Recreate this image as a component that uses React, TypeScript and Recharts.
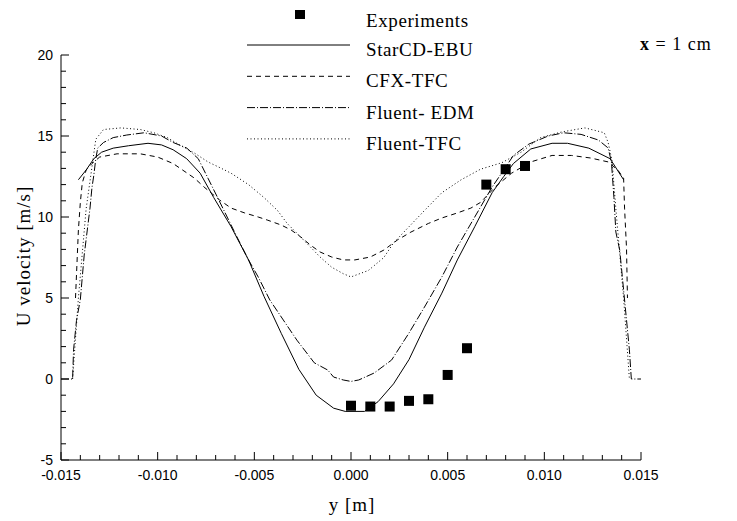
import { ComposedChart, Line, Scatter, XAxis, YAxis } from "recharts"

const W = 729
const H = 513

// y [m] / U velocity [m/s]
const expY = [0, 0.001, 0.002, 0.003, 0.004, 0.005, 0.006, 0.007, 0.008, 0.009]
const expU = [-1.65, -1.7, -1.7, -1.35, -1.25, 0.25, 1.9, 12.0, 12.95, 13.15]

const ebuY = [-0.0141, -0.0137, -0.0133, -0.0129, -0.0123, -0.0115, -0.0105, -0.0098, -0.0092, -0.0085, -0.0078, -0.0071, -0.0062, -0.0053, -0.0045, -0.0036, -0.0027, -0.0018, -0.0009, -0.0003, 0.0007, 0.0014, 0.0022, 0.003, 0.0038, 0.0047, 0.0055, 0.0064, 0.0073, 0.0079, 0.0084, 0.0093, 0.0104, 0.0112, 0.0123, 0.0134, 0.0141]
const ebuU = [12.3, 12.9, 13.6, 14.0, 14.25, 14.4, 14.55, 14.45, 14.15, 13.6, 12.7, 11.2, 9.4, 7.35, 5.1, 2.8, 0.6, -1.0, -1.8, -2.0, -2.0, -1.4, -0.3, 1.2, 3.2, 5.3, 7.35, 9.4, 11.5, 12.5, 13.3, 14.2, 14.55, 14.55, 14.25, 13.6, 12.3]

const cfxY = [-0.01425, -0.0141, -0.014, -0.0139, -0.0137, -0.0134, -0.013, -0.0121, -0.0109, -0.01, -0.0092, -0.0081, -0.0076, -0.0068, -0.0062, -0.0055, -0.0048, -0.0043, -0.0036, -0.0031, -0.0026, -0.0021, -0.0016, -0.001, -0.0004, 0.0002, 0.001, 0.0017, 0.0024, 0.0031, 0.004, 0.0047, 0.0055, 0.0062, 0.0067, 0.0075, 0.0083, 0.0093, 0.0104, 0.0114, 0.0124, 0.0133, 0.0138, 0.0141, 0.01415, 0.01425, 0.0143]
const cfxU = [5.0, 9.2, 10.9, 12.1, 12.9, 13.3, 13.7, 13.9, 13.9, 13.7, 13.3, 12.4, 11.85, 11.05, 10.55, 10.25, 10.0, 9.8, 9.5, 9.2, 8.77, 8.27, 7.84, 7.53, 7.35, 7.35, 7.53, 7.96, 8.58, 9.07, 9.6, 9.94, 10.25, 10.55, 10.9, 11.9, 12.7, 13.4, 13.8, 13.8, 13.64, 13.4, 12.9, 12.4, 10.55, 8.1, 5.0]

const edmY = [-0.015, -0.0144, -0.01435, -0.0142, -0.014, -0.0138, -0.0135, -0.0134, -0.0133, -0.0132, -0.0131, -0.0128, -0.0123, -0.0116, -0.0107, -0.0098, -0.0092, -0.0085, -0.0079, -0.0074, -0.0069, -0.0059, -0.0053, -0.0048, -0.0042, -0.0035, -0.0028, -0.0019, -0.0012, -0.0009, -0.0004, 0, 0.0004, 0.0012, 0.0021, 0.003, 0.0038, 0.0047, 0.0055, 0.0064, 0.0073, 0.0079, 0.0084, 0.0092, 0.0102, 0.011, 0.0119, 0.0128, 0.0133, 0.01347, 0.0136, 0.0137, 0.0139, 0.0141, 0.0144, 0.0145, 0.015]
const edmU = [0, 0, 1.8, 3.6, 4.9, 7.65, 10.55, 11.8, 12.6, 13.6, 14.26, 14.6, 14.9, 15.06, 15.2, 15.0, 14.6, 14.26, 13.6, 12.4, 11.2, 8.77, 7.35, 6.3, 4.88, 3.64, 2.4, 1.0, 0.55, 0.12, -0.06, -0.15, -0.06, 0.37, 1.17, 2.84, 4.44, 6.3, 8.15, 10.0, 11.85, 12.9, 13.8, 14.5, 15.0, 15.2, 15.1, 14.75, 14.26, 13.4, 11.2, 9.07, 7.96, 5.5, 1.8, 0, 0]

const tfcY = [-0.0144, -0.0141, -0.0137, -0.01335, -0.0132, -0.0128, -0.0119, -0.0109, -0.0102, -0.0095, -0.0088, -0.0081, -0.0074, -0.0067, -0.0062, -0.0053, -0.0045, -0.0038, -0.0033, -0.0028, -0.0021, -0.0016, -0.001, -0.0004, 0, 0.0009, 0.0017, 0.0022, 0.003, 0.0038, 0.0047, 0.0057, 0.0067, 0.0078, 0.0088, 0.0098, 0.0109, 0.0121, 0.0131, 0.0133, 0.0135, 0.0137, 0.0141, 0.0144]
const tfcU = [0, 5, 10.5, 13.5, 14.8, 15.4, 15.5, 15.4, 15.2, 14.9, 14.4, 13.95, 13.4, 13.0, 12.7, 12.0, 11.2, 10.4, 9.6, 9.0, 8.15, 7.53, 6.9, 6.5, 6.3, 6.7, 7.5, 8.4, 9.4, 10.4, 11.5, 12.3, 12.95, 13.35, 14.0, 14.9, 15.25, 15.5, 15.2, 14.6, 13.5, 10.5, 5, 0]

const xMajor = [-0.015, -0.01, -0.005, 0, 0.005, 0.01, 0.015]
const yMajor = [-5, 0, 5, 10, 15, 20]

// minor ticks: 5 subdivisions between majors
const subdivide = (majors: number[]) => {
  const out: number[] = []
  majors.forEach((m, i) => {
    if (i === majors.length - 1) return out.push(m)
    const step = (majors[i + 1] - m) / 5
    for (let k = 0; k < 5; k++) out.push(+(m + k * step).toFixed(6))
  })
  return out
}
const xTicks = subdivide(xMajor)
const yTicks = subdivide(yMajor)

const pts = (ys: number[], us: number[]) =>
  ys.slice(0, us.length).map((y, i) => ({ x: y, u: us[i] }))

const series = [
  { name: "StarCD-EBU", data: pts(ebuY, ebuU), dash: undefined },
  { name: "CFX-TFC", data: pts(cfxY, cfxU), dash: "5 4" },
  { name: "Fluent- EDM", data: pts(edmY, edmU), dash: "8 2 1 2" },
  { name: "Fluent-TFC", data: pts(tfcY, tfcU), dash: "1 2.5" },
]
const expData = pts(expY, expU)

const isMajor = (v: number, majors: number[]) => majors.some((m) => Math.abs(m - v) < 1e-9)

const tickFont = { fontFamily: "'Liberation Sans', Arial, sans-serif", fontSize: 14, fill: "#000" }
const serif = "'Liberation Serif', 'Times New Roman', serif"

function XTick(props: any) {
  const { x, y, payload } = props
  const major = isMajor(payload.value, xMajor)
  return (
    <g>
      <line x1={x} x2={x} y1={y} y2={y - (major ? 8 : 5)} stroke="#000" />
      {major && (
        <text x={x} y={y + 20} textAnchor="middle" {...tickFont}>
          {payload.value.toFixed(3)}
        </text>
      )}
    </g>
  )
}

function YTick(props: any) {
  const { x, y, payload } = props
  const major = isMajor(payload.value, yMajor)
  return (
    <g>
      <line x1={x} x2={x + (major ? 8 : 5)} y1={y} y2={y} stroke="#000" />
      {major && (
        <text x={x - 8} y={y} dy={5} textAnchor="end" {...tickFont}>
          {payload.value}
        </text>
      )}
    </g>
  )
}

const Square = (props: any) => (
  <rect x={props.cx - 5} y={props.cy - 5} width={10} height={10} fill="#000" />
)

export default function App() {
  return (
    <div style={{ position: "relative", width: W, height: H }}>
      <ComposedChart width={W} height={H} margin={{ top: 47, right: 96, bottom: 31, left: 8 }}>
        <XAxis
          type="number"
          dataKey="x"
          domain={[-0.015, 0.015]}
          ticks={xTicks}
          interval={0}
          tickSize={0}
          tickMargin={0}
          tickLine={false}
          tick={<XTick />}
          height={30}
          axisLine={{ stroke: "#000" }}
          allowDataOverflow
        />
        <YAxis
          type="number"
          domain={[-5, 20]}
          ticks={yTicks}
          interval={0}
          tickSize={0}
          tickMargin={0}
          tickLine={false}
          tick={<YTick />}
          width={45}
          axisLine={{ stroke: "#000" }}
          allowDataOverflow
        />
        {series.map((s) => (
          <Line
            key={s.name}
            data={s.data}
            dataKey="u"
            type="linear"
            stroke="#000"
            strokeWidth={1}
            strokeDasharray={s.dash}
            dot={false}
            activeDot={false}
            isAnimationActive={false}
          />
        ))}
        <Scatter data={expData} dataKey="u" fill="#000" shape={<Square />} isAnimationActive={false} />
      </ComposedChart>

      <svg
        width={W}
        height={H}
        style={{ position: "absolute", left: 0, top: 0, pointerEvents: "none" }}
        fontFamily={serif}
      >
        <rect x={287} y={2} width={10} height={9} fill="#000" />
        <text x={358} y={19} fontSize={19} letterSpacing={0.6}>
          Experiments
        </text>
        {series.map((s, i) => {
          const ly = 37 + i * 31.3
          return (
            <g key={s.name}>
              <line x1={239} x2={342} y1={ly} y2={ly} stroke="#000" strokeDasharray={s.dash} />
              <text x={358} y={ly + 11} fontSize={19} letterSpacing={0.6}>
                {s.name}
              </text>
            </g>
          )
        })}
        <text x={632} y={42} fontSize={18} letterSpacing={1}>
          <tspan fontWeight="bold">x</tspan> = 1 cm
        </text>
        <text
          transform="translate(15,248) rotate(-90)"
          textAnchor="middle"
          dominantBaseline="central"
          fontSize={19}
          letterSpacing={1}
        >
          U velocity [m/s]
        </text>
        <text x={344} y={503} textAnchor="middle" fontSize={19} letterSpacing={1}>
          y [m]
        </text>
      </svg>
    </div>
  )
}
